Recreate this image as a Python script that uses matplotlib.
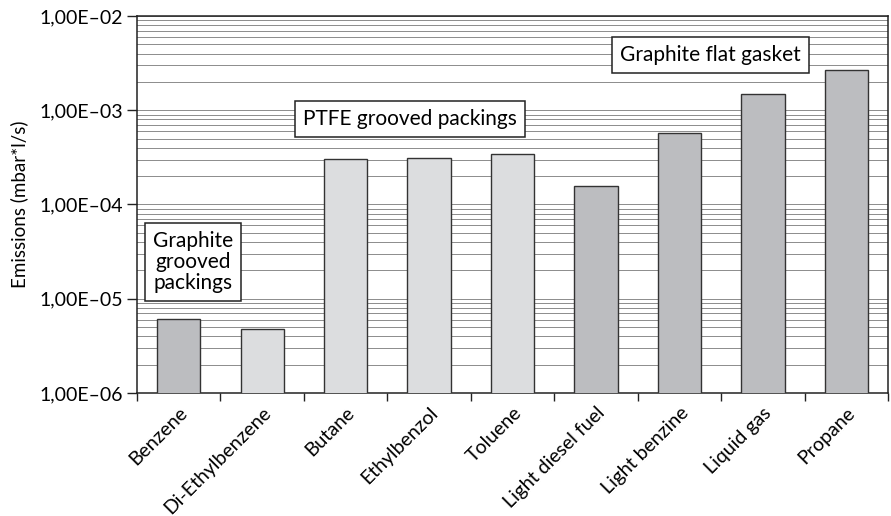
import matplotlib
matplotlib.use("Agg")
import matplotlib.pyplot as plt
from matplotlib.ticker import LogLocator, FixedLocator, FuncFormatter, NullFormatter
import numpy as np

plt.rcParams['font.family'] = ['Lato', 'DejaVu Sans']

substances = ['Benzene', 'Di-Ethylbenzene', 'Butane', 'Ethylbenzol', 'Toluene',
              'Light diesel fuel', 'Light benzine', 'Liquid gas', 'Propane']
emissions = [6.1e-6, 4.8e-6, 3.05e-4, 3.15e-4, 3.4e-4, 1.57e-4, 5.8e-4, 1.48e-3, 2.65e-3]
groups = ['graphite', 'ptfe', 'ptfe', 'ptfe', 'ptfe',
          'graphite', 'graphite', 'graphite', 'graphite']
group_colors = {'graphite': '#bcbdc0', 'ptfe': '#dcdddf'}

fig = plt.figure(figsize=(8.91, 5.16), dpi=100)
ax = fig.add_axes([0.1538, 0.2384, 0.843, 0.7306])

x = np.arange(len(substances))
ax.bar(x, emissions, width=0.52, color=[group_colors[g] for g in groups],
       edgecolor='#333333', linewidth=1.0, zorder=3)

ax.set_yscale('log')
ax.set_ylim(1e-6, 1e-2)
ax.set_xlim(-0.5, len(substances) - 0.5)

ax.yaxis.set_major_locator(LogLocator(base=10, numticks=10))
ax.yaxis.set_minor_locator(LogLocator(base=10, subs=np.arange(2, 10), numticks=20))
ax.yaxis.set_major_formatter(FuncFormatter(
    lambda v, p: '1,00E\u2013%02d' % round(-np.log10(v))))
ax.yaxis.set_minor_formatter(NullFormatter())
ax.grid(True, which='both', axis='y', color='#8c8c8c', linewidth=0.7, zorder=0)
ax.set_axisbelow(True)

ax.set_xticks(x)
ax.set_xticklabels(substances, rotation=45, ha='right', rotation_mode='anchor')
ax.xaxis.set_minor_locator(FixedLocator(np.arange(-0.5, len(substances), 1.0)))
ax.tick_params(axis='x', which='major', length=0, labelsize=14, pad=8)
ax.tick_params(axis='x', which='minor', length=6, width=1, color='#222222')
ax.tick_params(axis='y', which='major', length=7, width=1, labelsize=14,
               color='#222222', pad=3)
ax.tick_params(axis='y', which='minor', length=0)
for s in ax.spines.values():
    s.set_color('#222222')
    s.set_linewidth(1.1)

ax.set_ylabel('Emissions (mbar*l/s)', fontsize=13.5, labelpad=8)

box = dict(boxstyle='square,pad=0.38', facecolor='white', edgecolor='#222222', linewidth=1.1)
ax.text(0.17, 2.45e-5, 'Graphite\ngrooved\npackings', ha='center', va='center',
        fontsize=15, bbox=box, zorder=4, linespacing=1.05)
ax.text(2.77, 8.0e-4, 'PTFE grooved packings', ha='center', va='center',
        fontsize=15, bbox=box, zorder=4)
ax.text(6.37, 3.85e-3, 'Graphite flat gasket', ha='center', va='center',
        fontsize=15, bbox=box, zorder=4)

fig.savefig('out.png', dpi=100)
